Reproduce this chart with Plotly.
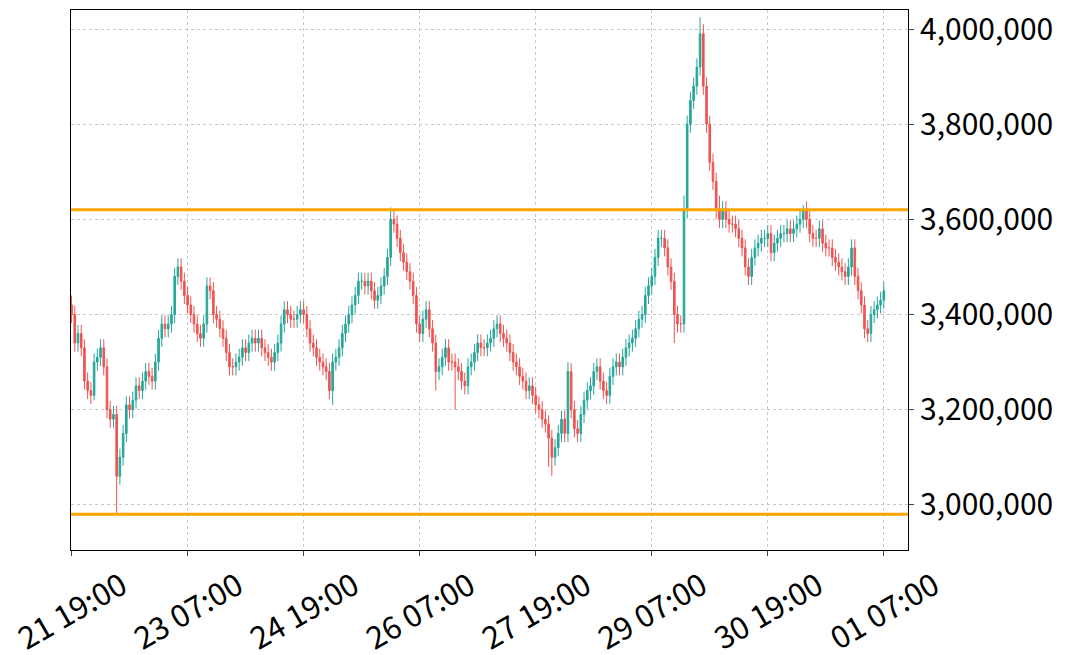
import plotly.graph_objs as go
import pandas as pd

# hourly closes (thousand JPY)
closes_k = [
    3400, 3340, 3360, 3330, 3260, 3240, 3230, 3300, 3310, 3330,
    3290, 3200, 3180, 3190, 3060, 3100, 3150, 3210, 3200, 3220,
    3250, 3240, 3260, 3280, 3270, 3260, 3300, 3350, 3380, 3370,
    3380, 3400, 3480, 3500, 3470, 3440, 3420, 3400, 3380, 3360,
    3350, 3380, 3460, 3450, 3400, 3390, 3370, 3350, 3320, 3290,
    3290, 3300, 3310, 3330, 3320, 3340, 3350, 3340, 3350, 3330,
    3320, 3310, 3300, 3320, 3340, 3380, 3410, 3400, 3390, 3390,
    3400, 3410, 3400, 3370, 3340, 3330, 3310, 3300, 3290, 3280,
    3240, 3300, 3310, 3330, 3360, 3380, 3400, 3420, 3440, 3470,
    3470, 3460, 3470, 3450, 3430, 3440, 3460, 3480, 3520, 3600,
    3590, 3560, 3530, 3510, 3490, 3470, 3440, 3380, 3360, 3390,
    3410, 3370, 3340, 3280, 3290, 3310, 3330, 3300, 3300, 3290,
    3280, 3260, 3250, 3290, 3300, 3320, 3340, 3330, 3330, 3340,
    3350, 3370, 3380, 3360, 3350, 3340, 3320, 3300, 3290, 3270,
    3260, 3240, 3250, 3230, 3210, 3200, 3180, 3170, 3140, 3100,
    3120, 3150, 3180, 3150, 3280, 3200, 3160, 3150, 3190, 3220,
    3240, 3250, 3280, 3290, 3260, 3240, 3230, 3270, 3290, 3300,
    3290, 3310, 3330, 3340, 3350, 3370, 3390, 3400, 3440, 3460,
    3480, 3520, 3560, 3560, 3540, 3500, 3470, 3400, 3380, 3380,
    3620, 3800, 3850, 3880, 3920, 3990, 3880, 3800, 3720, 3680,
    3620, 3600, 3620, 3600, 3590, 3590, 3580, 3560, 3540, 3500,
    3480, 3520, 3540, 3550, 3560, 3560, 3570, 3530, 3550, 3560,
    3570, 3570, 3580, 3570, 3580, 3590, 3600, 3620, 3600, 3570,
    3560, 3560, 3580, 3550, 3540, 3540, 3520, 3510, 3500, 3490,
    3480, 3500, 3540, 3480, 3450, 3420, 3370, 3360, 3400, 3410,
    3420, 3430, 3450,
]
first_open_k = 3420
wick_k = 18
# hours with long wicks: hour -> high / low
spike_high_k = {0: 3440, 99: 3625, 190: 3650, 195: 4025, 196: 4010, 201: 3650, 227: 3630, 154: 3300}
spike_low_k = {14: 2980, 149: 3060, 148: 3080, 81: 3210, 7: 3220, 113: 3240, 119: 3200, 246: 3350, 187: 3340}

support_level = 2980000
resist_level = 3620000

times = pd.date_range("2023-07-21 19:00", periods=len(closes_k), freq="h")
opens_k = [first_open_k] + closes_k[:-1]
highs_k = [spike_high_k.get(i, max(o, c) + wick_k) for i, (o, c) in enumerate(zip(opens_k, closes_k))]
lows_k = [spike_low_k.get(i, min(o, c) - wick_k) for i, (o, c) in enumerate(zip(opens_k, closes_k))]

fig = go.Figure(go.Candlestick(
    x=times,
    open=[v * 1000 for v in opens_k], high=[v * 1000 for v in highs_k],
    low=[v * 1000 for v in lows_k], close=[v * 1000 for v in closes_k],
    increasing=dict(line=dict(color="#26a69a", width=1), fillcolor="#26a69a"),
    decreasing=dict(line=dict(color="#ef5350", width=1), fillcolor="#ef5350"),
    whiskerwidth=0, showlegend=False))

for lvl in (support_level, resist_level):
    fig.add_hline(y=lvl, line=dict(color="orange", width=3))

# page body adds 8px, so margins are shifted by that
fig.update_layout(
    width=1070, height=655,
    margin=dict(l=63, r=170, t=2, b=113),
    plot_bgcolor="white", paper_bgcolor="white",
    font=dict(family="Noto Sans CJK JP", size=30, color="black"),
    xaxis=dict(rangeslider=dict(visible=False), tickformat="%d %H:%M",
               tick0="2023-07-21 19:00", dtick=36 * 3600 * 1000, tickangle=-30,
               range=["2023-07-21 18:50", "2023-08-01 14:30"], automargin=False,
               ticklabeloverflow="allow", ticklabelshift=50, tickfont=dict(size=31),
               showgrid=True, gridcolor="#c8c8c8", griddash="dot", gridwidth=1,
               showline=True, linecolor="black", mirror=True, ticks="outside", ticklen=5),
    yaxis=dict(side="right", tickformat=",d", range=[2905000, 4040000], dtick=200000,
               automargin=False, ticklabeloverflow="allow",
               showgrid=True, gridcolor="#c8c8c8", griddash="dot", gridwidth=1,
               showline=True, linecolor="black", mirror=True, ticks="outside", ticklen=5),
)

fig.write_html("out.html")
